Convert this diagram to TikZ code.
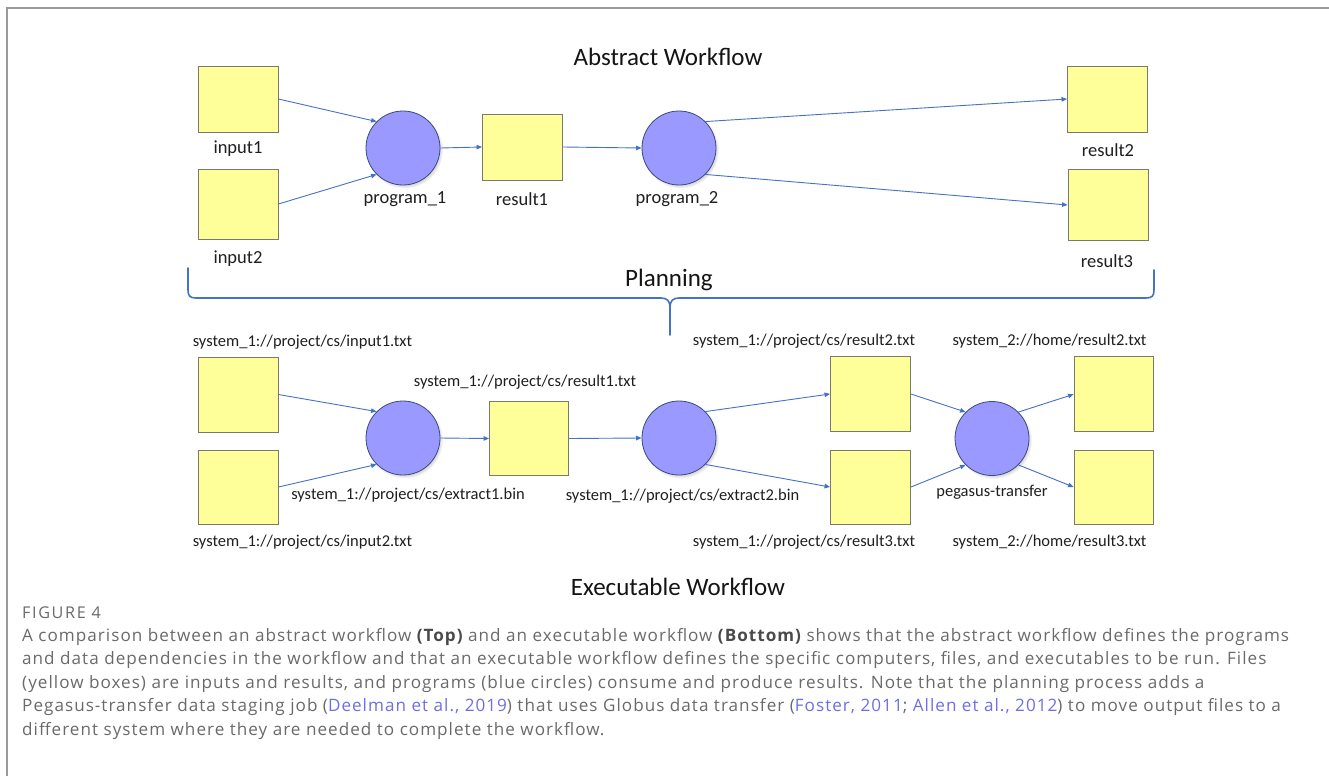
\documentclass[tikz,border=0pt]{standalone}
\usepackage{fontspec}
\setmainfont{Carlito}
\newfontfamily\capfont[LetterSpace=6]{Open Sans}
\newfontfamily\figfont[LetterSpace=10]{Open Sans}
\usetikzlibrary{arrows.meta,shadows}
\definecolor{boxfill}{HTML}{FFFF99}
\definecolor{boxdraw}{HTML}{7A7A6A}
\definecolor{circfill}{HTML}{9999FF}
\definecolor{circdraw}{HTML}{3C4A78}
\definecolor{arrowc}{HTML}{4472C4}
\definecolor{bracec}{HTML}{4472C4}
\definecolor{capgray}{HTML}{6A6A6A}
\definecolor{linkc}{HTML}{6E6EE8}
\definecolor{framec}{HTML}{9A9A9A}
\definecolor{boldgray}{HTML}{4A4A4A}
\begin{document}
\begin{tikzpicture}[x=1pt,y=-1pt,
  file/.style={draw=boxdraw, fill=boxfill, line width=0.9pt, inner sep=0pt, minimum width=80pt, minimum height=66pt},
  prog/.style={circle, draw=circdraw, fill=circfill, line width=0.8pt, inner sep=0pt, minimum size=74pt,
    circular drop shadow={shadow xshift=1.5pt, shadow yshift=-2pt, shadow scale=1.04, opacity=0.45}},
  flow/.style={draw=arrowc, line width=0.9pt, -{Triangle[length=5.5pt,width=4.5pt]}},
  lbl/.style={font=\fontsize{18.5}{20}\selectfont, inner sep=0pt, text=black!88},
  plbl/.style={font=\fontsize{16.5}{18}\selectfont, inner sep=0pt, text=black!88},
  ttl/.style={font=\fontsize{25}{28}\selectfont, inner sep=0pt, text=black!92},
  capline/.style={anchor=base west, inner sep=0pt, font=\capfont\fontsize{17.1}{22}\selectfont, text=capgray}
]
\useasboundingbox (0,0) rectangle (1329,776);
\fill[white] (0,0) rectangle (1329,776);
% frame
\draw[framec, line width=1.5pt] (7,776) -- (7,8) -- (1329,8);

% ---------- Abstract workflow ----------
\node[ttl] (tAbs) at (668,57) {Abstract Workflow};
\node[file] (in1) at (238,99) {};
\node[file, minimum height=70pt] (in2) at (238,204) {};
\node[prog] (p1) at (403,148) {};
\node[file] (res1) at (522.5,147) {};
\node[prog] (p2) at (679,148) {};
\node[file] (res2) at (1107.5,99) {};
\node[file, minimum height=71pt] (res3) at (1108,205) {};

\node[lbl] (lin1) at (238,149) {input1};
\node[lbl] (lin2) at (238,259) {input2};
\node[lbl] (lp1) at (405,199) {program\_1};
\node[lbl] (lres1) at (522,199) {result1};
\node[lbl] (lp2) at (677,199) {program\_2};
\node[lbl] (lres2) at (1108,150) {result2};
\node[lbl] (lres3) at (1107,261) {result3};

\draw[flow] (in1.east) -- (p1.north west);
\draw[flow] (in2.east) -- (p1.south west);
\draw[flow] (p1.east) -- (res1.west);
\draw[flow] (res1.east) -- (p2.west);
\draw[flow] (p2.north east) -- (res2.west);
\draw[flow] (p2.south east) -- (res3.west);

% ---------- Planning brace ----------
\node[ttl] (tPlan) at (669,280) {Planning};
\coordinate (bl) at (188,268);
\coordinate (br) at (1154,270);
\coordinate (bm) at (670,335);
\draw[bracec, line width=1.6pt, line cap=round]
  (bl) -- (188,290) .. controls (188,296) and (190,298) .. (196,298) -- (661,298)
  .. controls (667,298) and (670,301) .. (670,307) -- (bm);
\draw[bracec, line width=1.6pt, line cap=round]
  (670,307) .. controls (670,301) and (673,298) .. (679,298) -- (1146,298)
  .. controls (1152,298) and (1154,296) .. (1154,290) -- (br);

% ---------- Executable workflow ----------
\node[file, minimum height=75pt] (b1) at (238,394.5) {};
\node[file, minimum height=74pt] (b2) at (238,487) {};
\node[prog] (p3) at (403,438) {};
\node[file, minimum width=79pt, minimum height=74pt] (r1b) at (529,438.5) {};
\node[prog] (p4) at (679,438) {};
\node[file, minimum height=75pt] (r2b) at (870.5,394) {};
\node[file, minimum height=74pt] (r3b) at (870.5,487) {};
\node[prog] (peg) at (992,438.5) {};
\node[file, minimum width=79pt, minimum height=75pt] (r2c) at (1113.5,394.3) {};
\node[file, minimum width=79pt, minimum height=74pt] (r3c) at (1113.5,487) {};

\node[plbl] (lb1) at (302.5,342) {system\_1://project/cs/input1.txt};
\node[plbl] (lb2) at (302.5,542) {system\_1://project/cs/input2.txt};
\node[plbl] (lr1b) at (525,382) {system\_1://project/cs/result1.txt};
\node[plbl] (le1) at (408,495) {system\_1://project/cs/extract1.bin};
\node[plbl] (le2) at (682.5,496) {system\_1://project/cs/extract2.bin};
\node[plbl] (lr2b) at (804,341) {system\_1://project/cs/result2.txt};
\node[plbl] (lr3b) at (804,542) {system\_1://project/cs/result3.txt};
\node[plbl] (lr2c) at (1049.5,341) {system\_2://home/result2.txt};
\node[plbl] (lr3c) at (1049.5,542) {system\_2://home/result3.txt};
\node[plbl] (lpeg) at (992,492) {pegasus-transfer};

\draw[flow] (b1.east) -- (p3.north west);
\draw[flow] (b2.east) -- (p3.south west);
\draw[flow] (p3.east) -- (r1b.west);
\draw[flow] (r1b.east) -- (p4.west);
\draw[flow] (p4.north east) -- (r2b.west);
\draw[flow] (p4.south east) -- (r3b.west);
\draw[flow] (r2b.east) -- (peg.north west);
\draw[flow] (r3b.east) -- (peg.south west);
\draw[flow] (peg.north east) -- (r2c.west);
\draw[flow] (peg.south east) -- (r3c.west);

\node[ttl] (tExe) at (678,587) {Executable Workflow};

% ---------- Caption ----------
\node[anchor=base west, inner sep=0pt, font=\figfont\fontsize{16.2}{18}\selectfont, text=capgray] (fig) at (22,618) {FIGURE 4};
\node[capline] (c1) at (22,641) {A comparison between an abstract workflow {\color{boldgray}\bfseries (Top)} and an executable workflow {\color{boldgray}\bfseries (Bottom)} shows that the abstract workflow defines the programs};
\node[capline] (c2) at (22,664.5) {and data dependencies in the workflow and that an executable workflow defines the specific computers, files, and executables to be run. Files};
\node[capline] (c3) at (22,688) {(yellow boxes) are inputs and results, and programs (blue circles) consume and produce results. Note that the planning process adds a};
\node[capline] (c4) at (22,711.5) {Pegasus-transfer data staging job ({\color{linkc}Deelman et al., 2019}) that uses Globus data transfer ({\color{linkc}Foster, 2011}; {\color{linkc}Allen et al., 2012}) to move output files to a};
\node[capline] (c5) at (22,735) {different system where they are needed to complete the workflow.};
\end{tikzpicture}
\end{document}
